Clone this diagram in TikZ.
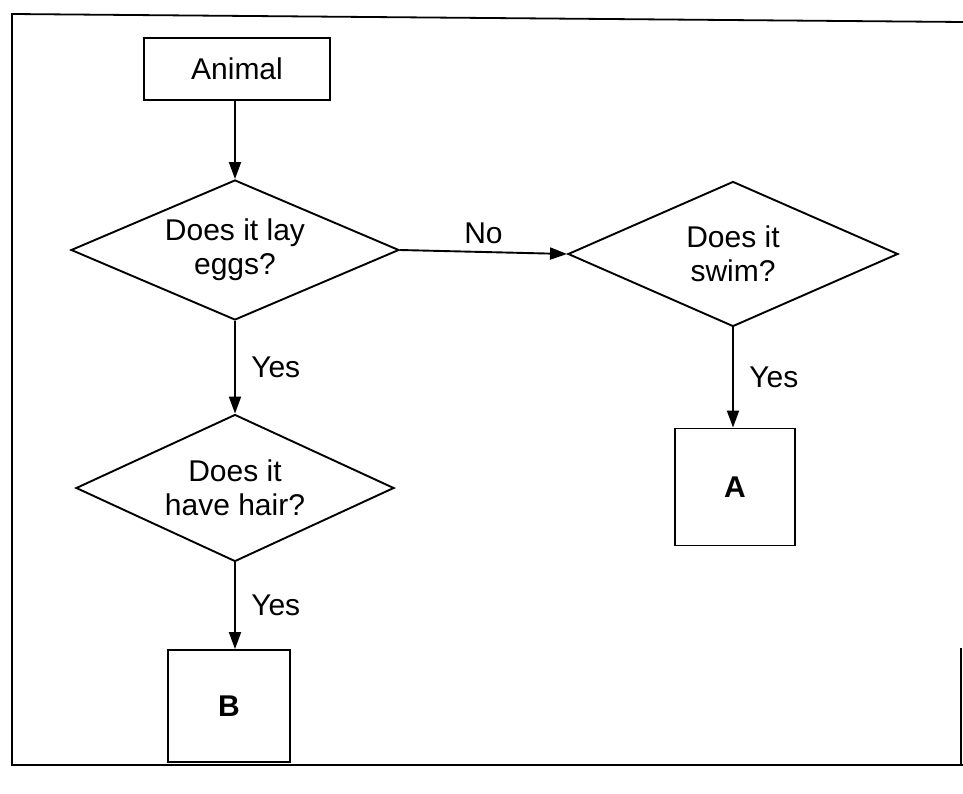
\documentclass[tikz,border=0pt]{standalone}
\usepackage{fontspec}
\setmainfont{Liberation Sans}
\usetikzlibrary{shapes.geometric,arrows.meta}
\begin{document}
\begin{tikzpicture}[x=1pt,y=-1pt,
  line width=1.9pt,
  txt/.style={font=\fontsize{30}{34}\selectfont, align=center},
  boxnode/.style={draw, inner sep=0pt, txt},
  decision/.style={draw, diamond, inner sep=0pt, aspect=2.3, txt},
  conn/.style={-{Triangle[length=17pt,width=12pt]}},
  lbl/.style={font=\fontsize{30}{34}\selectfont}
]
\useasboundingbox (0,0) rectangle (963,794);
% frame
\draw[line width=1.8pt] (963,22) -- (12,14) -- (12,765) -- (963,765);
\draw[line width=1.8pt] (961,648) -- (961,765);

\node[boxnode, minimum width=186pt, minimum height=62pt] (animal) at (237,69) {Animal};
\node[decision, minimum width=328pt, minimum height=140pt] (eggs) at (235,250) {Does it lay\\eggs?};
\node[decision, minimum width=330pt, minimum height=145pt] (swim) at (733,254) {Does it\\swim?};
\node[decision, minimum width=318pt, minimum height=147pt] (hair) at (235,488) {Does it\\have hair?};
\node[boxnode, minimum width=120pt, minimum height=117pt, font=\fontsize{30}{34}\selectfont\bfseries] (A) at (735,487) {A};
\node[boxnode, minimum width=122pt, minimum height=112pt, font=\fontsize{30}{34}\selectfont\bfseries] (B) at (229,706) {B};

\draw[conn] (animal.south -| eggs.north) -- (eggs.north);
\draw[conn] (eggs.east) -- (swim.west) node[lbl, midway, above=4pt] {No};
\draw[conn] (eggs.south) -- (hair.north) node[lbl, midway, right=12pt] {Yes};
\draw[conn] (swim.south) -- (swim.south |- A.north) node[lbl, midway, right=12pt] {Yes};
\draw[conn] (hair.south) -- (hair.south |- B.north) node[lbl, midway, right=12pt] {Yes};
\end{tikzpicture}
\end{document}
